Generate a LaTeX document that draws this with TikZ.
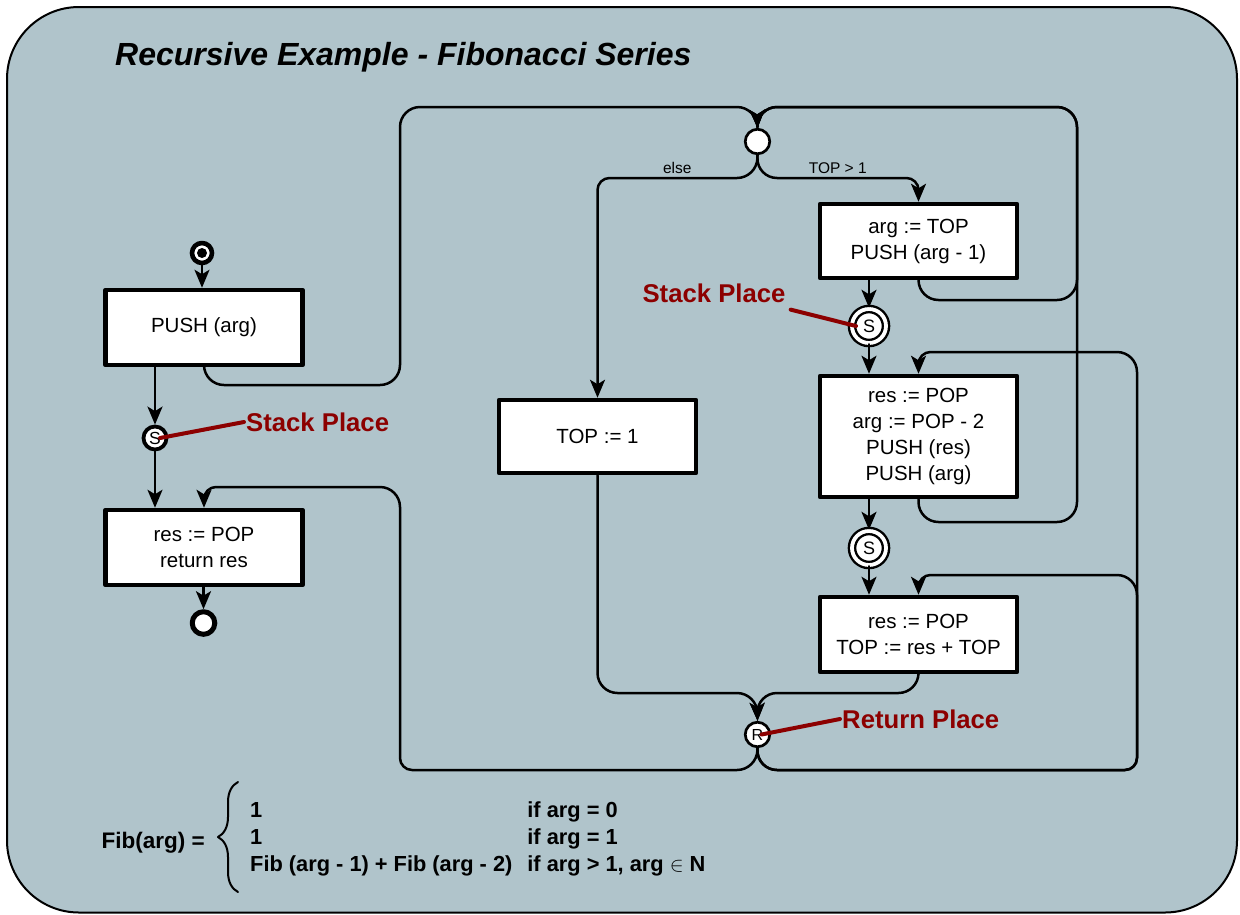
\documentclass[tikz,border=0pt]{standalone}
\usepackage{fontspec}
\setmainfont{Liberation Sans}
\usetikzlibrary{arrows.meta, decorations.pathreplacing}

\definecolor{panel}{RGB}{176,196,203}
\definecolor{pointred}{RGB}{140,0,0}

\tikzset{
	activity/.style={draw, fill=white, line width=4.5pt, align=center, minimum width=197pt, inner sep=0pt, font=\fontsize{20.5}{26}\selectfont},
	flow/.style={line width=2.5pt, rounded corners=20pt},
	tight/.style={rounded corners=12pt},
	junction/.style={circle, draw, fill=white, line width=2.7pt, minimum size=24.5pt, inner sep=0pt, font=\fontsize{16}{16}\selectfont},
	stackplace/.style={circle, draw, fill=white, line width=2.4pt, double=white, double distance=3.8pt, minimum size=34pt, inner sep=0pt, font=\fontsize{18}{18}\selectfont},
	pointer/.style={pointred, line width=4pt},
	placelabel/.style={text=pointred, font=\fontsize{25.7}{26}\selectfont\bfseries, inner sep=2pt},
	guard/.style={font=\fontsize{15.5}{16}\selectfont, inner sep=3pt}
}

\begin{document}
\begin{tikzpicture}[line join=round, line cap=round, >={Stealth[length=18pt, width=15pt, inset=4.5pt]}]
	\begin{scope}[x=1pt, y=-1pt]
		\useasboundingbox (0,0) rectangle (1240,914);
		\draw[fill=panel, line width=2pt, rounded corners=72pt] (7,7) rectangle (1237,912.5);
		
		\node[anchor=base west, inner sep=0pt, font=\fontsize{32}{32}\selectfont\bfseries\itshape] (title) at (115,65) {Recursive Example - Fibonacci Series};
		
		\path (757,107) coordinate (jtop)
		(757,178) coordinate (jsplit)
		(757,693) coordinate (jret)
		(757,770) coordinate (jbot)
		(400,385) coordinate (callrail)
		(400,487) coordinate (backrail)
		(1077,300) coordinate (loopA)
		(1077,522) coordinate (loopB)
		(1137,352) coordinate (retA)
		(1137,575) coordinate (retB);
		
		% left column
		\node[circle, draw, fill=white, line width=4.6pt, minimum size=20pt, inner sep=0pt] (start) at (202,253) {};
		\fill (start) circle (5pt);
		\node[activity, minimum height=75pt] (pusharg) at (204,327.5) {PUSH (arg)};
		\node[junction, line width=3.8pt, minimum size=23pt, font=\fontsize{17.5}{18}\selectfont] (stack1) at (155,438) {S};
		\node[activity, minimum height=75pt] (retbox) at (204,547.5) {res := POP\\return res};
		\node[circle, draw, fill=white, line width=5pt, minimum size=22.6pt, inner sep=0pt] (finish) at (203.5,623) {};
		
		% right part
		\node[junction] (dec) at (757.5,141.5) {};
		\node[activity, minimum height=74pt] (argbox) at (918.5,241) {arg := TOP\\PUSH (arg - 1)};
		\node[stackplace] (stack2) at (869,326) {S};
		\node[activity, minimum height=121pt] (resbox) at (918.5,436.5) {res := POP\\arg := POP - 2\\PUSH (res)\\PUSH (arg)};
		\node[stackplace] (stack3) at (869,548) {S};
		\node[activity, minimum height=75pt] (topbox) at (918.5,634.5) {res := POP\\TOP := res + TOP};
		\node[activity, minimum height=73pt] (onebox) at (597.5,436.5) {TOP := 1};
		\node[junction] (ret) at (757.5,734.5) {R};
		
		\foreach \a/\b in {start/start |- pusharg.north, stack1 |- pusharg.south/stack1, stack1/stack1 |- retbox.north, finish |- retbox.south/finish, stack2 |- argbox.south/stack2, stack2/stack2 |- resbox.north, stack3 |- resbox.south/stack3, stack3/stack3 |- topbox.north}
		\draw[flow, ->] (\a) -- (\b);
		
		\draw[flow, ->] (pusharg.south) |- (callrail) |- (jtop) [tight] -- (dec.north);
		\draw[flow, ->] (argbox.south) |- (loopA) |- (jtop) [tight] -- (dec.north);
		\draw[flow, ->] (resbox.south) |- (loopB) |- (jtop) [tight] -- (dec.north);
		
		\draw[flow, ->] (dec.south) -- (jsplit) [tight] -- node[guard, above] {else} (onebox.north |- jsplit) -- (onebox.north);
		\draw[flow, ->] (dec.south) -- (jsplit) [tight] -- node[guard, above] {TOP > 1} (argbox.north |- jsplit) -- (argbox.north);
		
		\draw[flow, ->] (onebox.south) |- (jret) [tight] -- (ret.north);
		\draw[flow, ->] (topbox.south) |- (jret) [tight] -- (ret.north);
		
		\draw[flow, ->] (ret.south) -- (jbot) [tight] -- (jbot -| backrail) [rounded corners=20pt] -- (backrail) [tight] -| (retbox.north);
		\draw[flow, ->] (ret.south) -- (jbot) [tight] -- (jbot -| retB) [rounded corners=20pt] -- (retB) [tight] -| (topbox.north);
		\draw[flow, ->] (ret.south) -- (jbot) [tight] -- (jbot -| retA) [rounded corners=20pt] -- (retA) [tight] -| (resbox.north);
		
		\node[placelabel, anchor=west] (stacklbl) at (244,422) {Stack Place};
		\node[placelabel] (stacklblb) at (714,293) {Stack Place};
		\node[placelabel, anchor=west] (retlbl) at (840,719) {Return Place};
		\draw[pointer] ([xshift=5pt]stack1.center) -- (stacklbl.west);
		\draw[pointer] ([shift={(3pt,-5pt)}]stacklblb.south east) -- ([xshift=-13pt]stack2.center);
		\draw[pointer] ([xshift=4pt]ret.center) -- (retlbl.west);
		
		% formula
		\node[anchor=base east, inner sep=0pt, font=\fontsize{22.5}{22.5}\selectfont\bfseries] (fiblhs) at (205,848) {Fib(arg) =};
		\draw[decorate, decoration={brace, amplitude=20pt}, line width=2pt] (238,892) -- (238,782);
		\node[anchor=base west, inner sep=0pt, font=\fontsize{21.8}{27}\selectfont\bfseries] (fibcases) at (250,817) {\begin{tabular}[t]{@{}l@{\hspace{15pt}}l@{}}
				1 & if arg = 0\\
				1 & if arg = 1\\
				Fib (arg - 1) + Fib (arg - 2) & if arg > 1, arg $\in$\ N
			\end{tabular}};
	\end{scope}
\end{tikzpicture}
\end{document}
